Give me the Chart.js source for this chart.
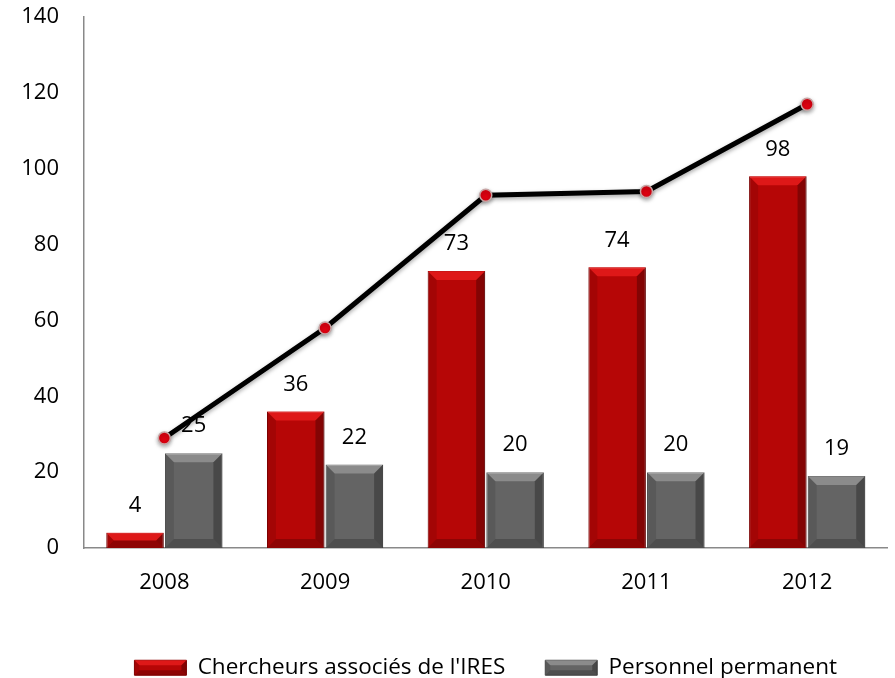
<!DOCTYPE html>
<html>
<head>
<meta charset="utf-8">
<script src="https://cdn.jsdelivr.net/npm/chart.js@4.4.1/dist/chart.umd.min.js"></script>
<style>
  html, body { margin: 0; padding: 0; background: #ffffff; }
</style>
</head>
<body>
<canvas id="chart" width="895" height="678"></canvas>
<script>
// Chart data
const years = ['2008', '2009', '2010', '2011', '2012'];
const chercheurs = [4, 36, 73, 74, 98];
const personnel = [25, 22, 20, 20, 19];
const totals = [29, 58, 93, 94, 117];
const yMin = 0;
const yMax = 140;
const yStep = 20;

Chart.defaults.font.family = "'Open Sans', sans-serif";
Chart.defaults.font.size = 22;
Chart.defaults.color = '#000000';

// Bevel look for bars and legend boxes
function drawBevel(ctx, left, top, w, h, size, light) {
    const b = Math.min(size, h / 2, w / 2);
    const right = left + w, bottom = top + h;
    const poly = (pts, color) => {
        ctx.beginPath();
        ctx.moveTo(pts[0][0], pts[0][1]);
        for (let i = 1; i < pts.length; i++) ctx.lineTo(pts[i][0], pts[i][1]);
        ctx.closePath();
        ctx.fillStyle = color;
        ctx.fill();
    };
    poly([[left, top], [right, top], [right - b, top + b], [left + b, top + b]], light);
    poly([[left, top], [left + b, top + b], [left + b, bottom - b], [left, bottom]], 'rgba(0,0,0,0.10)');
    poly([[right, top], [right, bottom], [right - b, bottom - b], [right - b, top + b]], 'rgba(0,0,0,0.28)');
    poly([[left, bottom], [left + b, bottom - b], [right - b, bottom - b], [right, bottom]], 'rgba(0,0,0,0.22)');
}

const bevelLight = ['rgba(255,40,40,0.55)', 'rgba(255,255,255,0.25)'];

const barStyle = {
    id: 'barStyle',
    beforeDatasetDraw(chart, args) {
        if (args.meta.type !== 'line') return;
        const ctx = chart.ctx;
        ctx.save();
        ctx.shadowColor = 'rgba(0,0,0,0.35)';
        ctx.shadowBlur = 4;
        ctx.shadowOffsetY = 2;
    },
    afterDatasetDraw(chart, args) {
        const ctx = chart.ctx;
        if (args.meta.type === 'line') {
            ctx.restore();
            return;
        }
        ctx.save();
        args.meta.data.forEach(bar => {
            const p = bar.getProps(['x', 'y', 'base', 'width'], true);
            drawBevel(ctx, p.x - p.width / 2, Math.min(p.y, p.base), p.width,
                Math.abs(p.base - p.y), 9, bevelLight[args.index]);
        });
        ctx.restore();
    },
    afterDatasetsDraw(chart) {
        // value labels above the bars
        const ctx = chart.ctx;
        ctx.save();
        ctx.font = "22px 'Open Sans', sans-serif";
        ctx.fillStyle = '#000000';
        ctx.textAlign = 'center';
        ctx.textBaseline = 'middle';
        chart.data.datasets.forEach((ds, i) => {
            const meta = chart.getDatasetMeta(i);
            if (meta.type !== 'bar') return;
            meta.data.forEach((bar, j) => {
                const p = bar.getProps(['x', 'y'], true);
                ctx.fillText(String(ds.data[j]), p.x, p.y - 27);
            });
        });
        ctx.restore();
    },
    afterDraw(chart) {
        const legend = chart.legend;
        if (!legend || !legend.legendHitBoxes) return;
        const ctx = chart.ctx;
        const lab = legend.options.labels;
        ctx.save();
        legend.legendHitBoxes.forEach((hb, i) => {
            const top = hb.top + Math.max((lab.font.size - lab.boxHeight) / 2, 0);
            drawBevel(ctx, hb.left, top, lab.boxWidth, lab.boxHeight, 5, bevelLight[i]);
        });
        ctx.restore();
    }
};

const ctx = document.getElementById('chart').getContext('2d');

const chart = new Chart(ctx, {
    type: 'bar',
    data: {
        labels: years,
        datasets: [
            {
                label: "Chercheurs associés de l'IRES",
                data: chercheurs,
                backgroundColor: '#b60606',
                borderColor: '#8a0000',
                borderWidth: 1,
                categoryPercentage: 0.73,
                barPercentage: 0.98,
                order: 1
            },
            {
                label: 'Personnel permanent',
                data: personnel,
                backgroundColor: '#646464',
                borderColor: '#4e4e4e',
                borderWidth: 1,
                categoryPercentage: 0.73,
                barPercentage: 0.98,
                order: 1
            },
            {
                type: 'line',
                label: 'Total',
                data: totals,
                borderColor: '#000000',
                borderWidth: 5,
                tension: 0,
                pointRadius: 6,
                pointBackgroundColor: '#e00010',
                pointBorderColor: '#c8a4a4',
                pointBorderWidth: 1.5,
                order: 0
            }
        ]
    },
    options: {
        responsive: false,
        animation: false,
        layout: {
            padding: { left: 0, right: 0, top: 17, bottom: -11 }
        },
        plugins: {
            tooltip: { enabled: false },
            legend: {
                position: 'bottom',
                fullSize: false,
                labels: {
                    boxWidth: 52,
                    boxHeight: 15,
                    padding: 40,
                    font: { size: 22.5 },
                    color: '#000000',
                    filter: item => item.datasetIndex !== 2
                }
            }
        },
        scales: {
            x: {
                grid: { display: false, drawTicks: false },
                border: { display: true, color: '#898989', width: 1.5 },
                ticks: { padding: 22, color: '#000000' },
                afterFit: scale => { scale.height = 68.5; }
            },
            y: {
                min: yMin,
                max: yMax,
                grid: { display: false, drawTicks: false },
                border: { display: true, color: '#898989', width: 1.5 },
                ticks: { stepSize: yStep, padding: 25, color: '#000000' },
                afterFit: scale => {
                    scale.width = 84;
                    scale.paddingTop = 0;
                    scale.paddingBottom = 0;
                }
            }
        }
    },
    plugins: [barStyle]
});
</script>
</body>
</html>
